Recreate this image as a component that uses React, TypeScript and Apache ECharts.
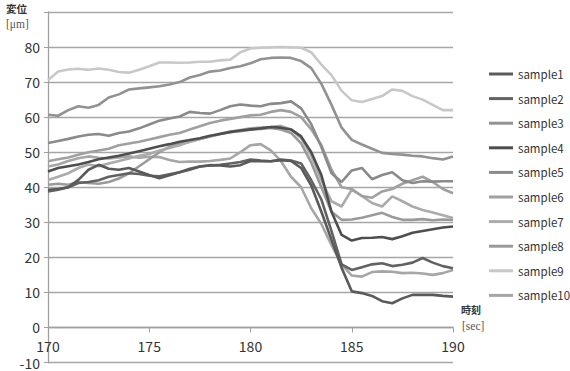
import React, { useEffect, useRef } from "react";
import * as echarts from "echarts";

const times = [170, 170.5, 171, 171.5, 172, 172.5, 173, 173.5, 174, 174.5, 175, 175.5, 176, 176.5, 177, 177.5, 178, 178.5, 179, 179.5, 180, 180.5, 181, 181.5, 182, 182.5, 183, 183.5, 184, 184.5, 185, 185.5, 186, 186.5, 187, 187.5, 188, 188.5, 189, 189.5, 190];

const sample1 = [39.3, 39.5, 40, 42.1, 45, 46.4, 45.3, 45, 45.5, 44.5, 43.5, 42.6, 43.4, 44.3, 45.3, 45.9, 46.3, 46.2, 45.9, 46.3, 47.5, 47.4, 47.4, 47.7, 47.5, 45.5, 40.5, 33, 25, 17, 10.3, 9.8, 9, 7.5, 6.9, 8.3, 9.3, 9.3, 9.3, 9, 8.8];
const sample2 = [38.8, 39.3, 40, 41.2, 41.5, 42, 43, 43.5, 44, 43.8, 43.3, 43.1, 43.7, 44.3, 45, 45.9, 46.2, 46.4, 46.8, 47.2, 47.9, 47.6, 47.4, 47.9, 47.6, 46.8, 42, 36.5, 27.5, 18, 16.4, 17.2, 18, 18.3, 17.5, 17.9, 18.5, 19.8, 18.5, 17.5, 16.9];
const sample3 = [60.7, 60.4, 62, 63.1, 62.7, 63.5, 65.6, 66.5, 67.9, 68.2, 68.5, 68.8, 69.3, 70, 71.3, 72, 73, 73.3, 74, 74.5, 75.4, 76.5, 76.9, 77, 76.9, 76, 74, 69.5, 63.5, 57, 53.5, 52.2, 51, 49.8, 49.5, 49.3, 49, 48.8, 48.3, 47.9, 48.8];
const sample4 = [44.5, 45.5, 46, 46.5, 47.2, 48, 48.5, 49, 49.6, 50.3, 51, 51.7, 52.3, 53, 53.5, 54, 54.7, 55.2, 55.8, 56.2, 56.5, 56.8, 57.2, 57, 56.5, 54.5, 50, 43.5, 33, 26.4, 24.8, 25.5, 25.6, 25.8, 25.2, 26, 27, 27.5, 28, 28.5, 28.8];
const sample5 = [52.6, 53.2, 53.8, 54.5, 55, 55.2, 54.7, 55.5, 55.9, 56.8, 57.9, 59, 59.6, 60.2, 61.5, 61.2, 61, 62, 63.1, 63.6, 63.3, 63.1, 63.8, 64, 64.5, 62.5, 58, 51.5, 44, 41.5, 44.8, 45.5, 42.3, 43.5, 44.3, 42, 41.2, 41.7, 41.6, 41.7, 41.7];
const sample6 = [47.4, 48, 48.5, 49.3, 50, 50.5, 51, 52, 52.5, 53, 53.6, 54.3, 55, 55.5, 56.5, 57.4, 58.3, 59, 59.5, 60, 60.5, 60.7, 61.5, 62, 61.5, 60, 56.5, 52, 45, 40, 39.5, 37.5, 37, 38.8, 39.5, 41, 42, 43, 41.5, 39.5, 38.3];
const sample7 = [42.1, 43, 44, 45.5, 46.5, 46, 46.8, 47.5, 48.2, 49, 49.5, 50.5, 51.2, 52, 53, 53.8, 54.5, 55.3, 55.8, 56.3, 56.8, 57, 57.2, 57.5, 56.5, 54, 49, 42, 36, 34.5, 39.3, 37.5, 35.5, 34.5, 37.4, 36, 34.5, 33.5, 32.8, 32, 31.2];
const sample8 = [40.7, 41, 40.7, 41.5, 41.2, 41, 41.5, 42.5, 44, 46, 48, 50, 51.5, 52.5, 53, 53.8, 54.5, 55.2, 55.7, 56, 56.4, 56.6, 56.9, 56.5, 55.5, 52.5, 47, 40, 33, 30.7, 30.8, 31.3, 32, 32.7, 31.5, 30.7, 30.7, 30.9, 30.6, 30.8, 30.7];
const sample9 = [70.5, 73, 73.6, 73.8, 73.5, 73.9, 73.5, 72.9, 72.7, 73.5, 74.5, 75.6, 75.6, 75.5, 75.6, 75.8, 75.8, 76.2, 76.4, 78.5, 79.6, 79.8, 79.9, 80, 79.9, 79.8, 78.5, 75, 72, 67.5, 64.8, 64.3, 65.2, 66, 67.9, 67.5, 66, 65, 63.5, 62, 62];
const sample10 = [45.9, 46.5, 47.5, 48.3, 48.8, 48.4, 48.2, 48.5, 48.8, 48.4, 48.7, 48.6, 47.8, 47.2, 47.3, 47.3, 47.5, 47.8, 48.2, 50, 52, 52.3, 50.5, 47.5, 43, 40, 34, 29.5, 23.5, 18, 14.8, 14.5, 15.8, 16, 15.9, 15.5, 15.6, 15.4, 15, 15.5, 16.4];

const seriesNames = ["sample1", "sample2", "sample3", "sample4", "sample5", "sample6", "sample7", "sample8", "sample9", "sample10"];
const seriesValues = [sample1, sample2, sample3, sample4, sample5, sample6, sample7, sample8, sample9, sample10];
const seriesColors = ["#5a5a5a", "#626262", "#929292", "#4e4e4e", "#8a8a8a", "#a0a0a0", "#ababab", "#9a9a9a", "#c8c8c8", "#a6a6a6"];

const yTitle = ["変位", "[μm]"];
const xTitle = ["時刻", "[sec]"];

const FONT = "'Noto Sans CJK JP', 'Noto Sans', sans-serif";
const SERIF = "Liberation Serif";
const GRID_TOP = 12;
const GRID_BOTTOM = 8.5;
const CHART_H = 371;
const Y_MIN = -10;
const Y_MAX = 90;

export default function App() {
  const ref = useRef<HTMLDivElement>(null);
  useEffect(() => {
    if (!ref.current) return;
    const chart = echarts.init(ref.current, undefined, { renderer: "svg" });
    const plotH = CHART_H - GRID_TOP - GRID_BOTTOM;
    const zeroOffset = (plotH * (0 - Y_MIN)) / (Y_MAX - Y_MIN);
    const series = seriesNames.map((name, i) => ({
      name,
      type: "line",
      data: times.map((t, j) => [t, seriesValues[i][j]]),
      showSymbol: false,
      symbol: "none",
      lineStyle: { color: seriesColors[i], width: 2.6 },
      itemStyle: { color: seriesColors[i] },
      z: 10 - i,
    }));
    chart.setOption({
      animation: false,
      backgroundColor: "#ffffff",
      textStyle: { fontFamily: FONT },
      grid: { left: 48, right: 117, top: GRID_TOP, bottom: GRID_BOTTOM, containLabel: false },
      xAxis: {
        type: "value",
        min: 170,
        max: 190,
        interval: 5,
        offset: -zeroOffset,
        axisLine: { show: true, onZero: false, lineStyle: { color: "#a0a0a0", width: 1.3 } },
        axisTick: { show: true, length: 5, lineStyle: { color: "#a0a0a0" } },
        axisLabel: { color: "#333", fontSize: 14, margin: 12, fontFamily: FONT },
        splitLine: { show: false },
      },
      yAxis: {
        type: "value",
        min: Y_MIN,
        max: Y_MAX,
        interval: 10,
        axisLine: { show: true, onZero: false, lineStyle: { color: "#a0a0a0", width: 1.3 } },
        axisTick: { show: true, length: 4, lineStyle: { color: "#a0a0a0" } },
        axisLabel: {
          color: "#333",
          fontSize: 14,
          margin: 8,
          fontFamily: FONT,
          formatter: (v: number) => (v === 90 ? "" : String(v)),
        },
        splitLine: { show: true, lineStyle: { color: "#a6a6a6", width: 1.3 } },
      },
      legend: {
        orient: "vertical",
        left: 484,
        top: 62,
        icon: "rect",
        itemWidth: 24,
        itemHeight: 3,
        itemGap: 10.6,
        textStyle: { fontSize: 11.5, color: "#333", lineHeight: 14, fontFamily: FONT },
        data: seriesNames,
      },
      graphic: [
        { type: "text", left: 6, top: 3, style: { text: yTitle[0], fontSize: 10.5, fontWeight: "bold", fill: "#333", fontFamily: FONT } },
        { type: "text", left: 6, top: 18, style: { text: yTitle[1], fontSize: 11.5, fill: "#555", fontFamily: SERIF } },
        { type: "text", left: 461, top: 304, style: { text: xTitle[0], fontSize: 10, fontWeight: "bold", fill: "#333", fontFamily: FONT } },
        { type: "text", left: 462, top: 320, style: { text: xTitle[1], fontSize: 11.5, fill: "#555", fontFamily: SERIF } },
      ],
      series,
    });
    return () => chart.dispose();
  }, []);
  return <div ref={ref} style={{ position: "fixed", left: 0, top: 0, width: 570, height: 371 }} />;
}
